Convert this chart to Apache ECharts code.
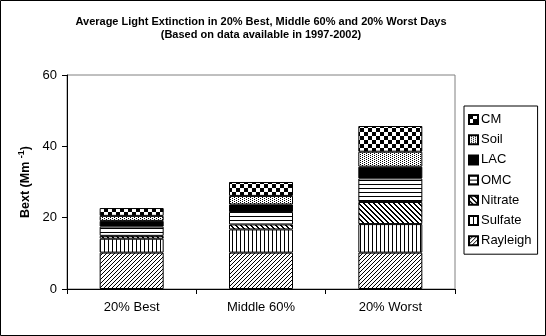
<!DOCTYPE html>
<html>
<head>
<meta charset="utf-8">
<script src="https://cdn.jsdelivr.net/npm/echarts@6/dist/echarts.min.js"></script>
<style>
  html, body { margin: 0; padding: 0; background: #fff; }
  #chart { width: 546px; height: 336px; }
</style>
</head>
<body>
<div id="chart"></div>
<script>
// Average light extinction (Mm-1) by component, 1997-2002
const categories = ['20% Best', 'Middle 60%', '20% Worst'];
const rayleigh = [10.2, 10.2, 10.2];
const sulfate  = [3.9, 6.5, 8.0];
const nitrate  = [0.8, 1.4, 6.2];
const omc      = [2.6, 3.5, 6.6];
const lac      = [1.6, 2.1, 3.3];
const soil     = [1.4, 2.4, 4.2];
const cm       = [2.2, 3.9, 7.2];
const legendOrder = ['CM', 'Soil', 'LAC', 'OMC', 'Nitrate', 'Sulfate', 'Rayleigh'];
const yMin = 0, yMax = 60, yStep = 20;

const FONT = 'Liberation Sans, Arial, sans-serif';

// Build a black-on-white repeating fill from a per-pixel rule
function pattern(w, h, isInk) {
  const c = document.createElement('canvas');
  c.width = w; c.height = h;
  const g = c.getContext('2d');
  g.fillStyle = '#fff';
  g.fillRect(0, 0, w, h);
  g.fillStyle = '#000';
  for (let y = 0; y < h; y++) {
    for (let x = 0; x < w; x++) {
      if (isInk(x, y)) g.fillRect(x, y, 1, 1);
    }
  }
  return { image: c, repeat: 'repeat' };
}

const fills = {
  Rayleigh: pattern(4, 4, (x, y) => (x + y) % 4 === 3),
  Sulfate:  pattern(4, 1, (x) => x === 0),
  Nitrate:  pattern(5, 5, (x, y) => { const d = ((x - y) % 5 + 5) % 5; return d === 0 || d === 1; }),
  OMC:      pattern(1, 4, (x, y) => y === 0),
  LAC:      '#000',
  Soil:     pattern(4, 2, (x, y) => (y === 0 && x === 0) || (y === 1 && x === 2)),
  CM:       pattern(8, 8, (x, y) => ((Math.floor(x / 4) + Math.floor(y / 4)) % 2) === 0)
};

const seriesData = [
  ['Rayleigh', rayleigh],
  ['Sulfate', sulfate],
  ['Nitrate', nitrate],
  ['OMC', omc],
  ['LAC', lac],
  ['Soil', soil],
  ['CM', cm]
];

const chart = echarts.init(document.getElementById('chart'), null, { renderer: 'canvas' });

chart.setOption({
  animation: false,
  backgroundColor: '#fff',
  textStyle: { fontFamily: FONT, color: '#000' },
  grid: {
    left: 67, right: 91, top: 75, bottom: 47,
    show: true, borderColor: '#808080', borderWidth: 1, backgroundColor: '#fff'
  },
  graphic: [
    {
      type: 'rect', silent: true, z: 100,
      shape: { x: 0.5, y: 0.5, width: 545, height: 335 },
      style: { fill: null, stroke: '#000', lineWidth: 1 }
    },
    {
      type: 'text', silent: true,
      x: 261, y: 16.5,
      style: {
        text: 'Average Light Extinction in 20% Best, Middle 60% and 20% Worst Days',
        font: 'bold 11px ' + FONT, fill: '#000', textAlign: 'center'
      }
    },
    {
      type: 'text', silent: true,
      x: 261, y: 29.5,
      style: {
        text: '(Based on data available in 1997-2002)',
        font: 'bold 11px ' + FONT, fill: '#000', textAlign: 'center'
      }
    }
  ],
  legend: {
    data: legendOrder,
    orient: 'vertical',
    left: 464, top: 106,
    padding: [7, 6, 7, 4],
    itemWidth: 9, itemHeight: 9, itemGap: 7.2,
    borderColor: '#000', borderWidth: 1,
    backgroundColor: '#fff',
    icon: 'rect',
    selectedMode: false,
    textStyle: { fontFamily: FONT, fontSize: 13, color: '#000', padding: [0, 0, 0, -2] }
  },
  xAxis: {
    type: 'category',
    data: categories,
    axisLine: { lineStyle: { color: '#000', width: 1 } },
    axisTick: { show: true, inside: false, length: 5, lineStyle: { color: '#000' } },
    axisLabel: { color: '#000', fontFamily: FONT, fontSize: 13, margin: 12 }
  },
  yAxis: {
    type: 'value',
    min: yMin, max: yMax, interval: yStep,
    splitLine: { show: false },
    axisLine: { show: true, lineStyle: { color: '#000', width: 1 } },
    axisTick: { show: true, length: 5, lineStyle: { color: '#000' } },
    axisLabel: { color: '#000', fontFamily: FONT, fontSize: 13, margin: 10 },
    name: '{a|Bext (Mm }{s|-1}{a|)}',
    nameLocation: 'middle',
    nameRotate: 90,
    nameGap: 33,
    nameTextStyle: {
      rich: {
        a: { fontFamily: FONT, fontWeight: 'bold', fontSize: 12.5, color: '#000', lineHeight: 16 },
        s: { fontFamily: FONT, fontWeight: 'bold', fontSize: 9, color: '#000', lineHeight: 16, verticalAlign: 'top' }
      }
    }
  },
  series: seriesData.map(([name, values]) => ({
    name: name,
    type: 'bar',
    stack: 'total',
    barWidth: 64,
    data: values,
    itemStyle: { color: fills[name], borderColor: '#000', borderWidth: 1 },
    emphasis: { disabled: true }
  }))
});
</script>
</body>
</html>
